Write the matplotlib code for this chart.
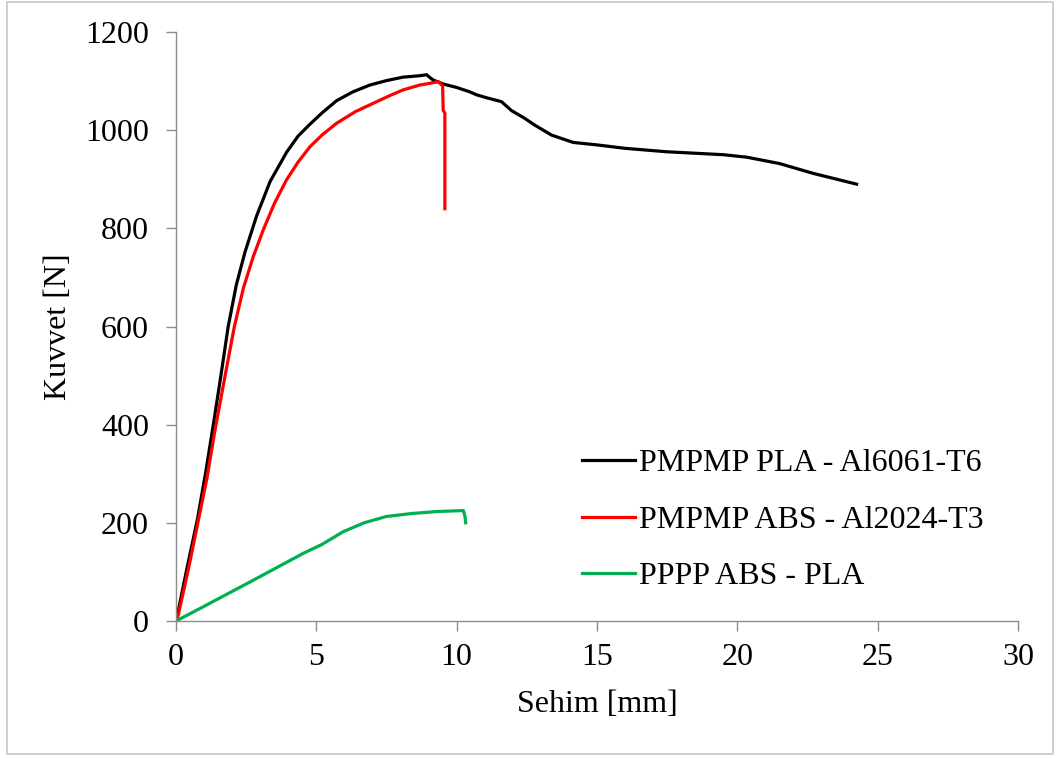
import matplotlib
matplotlib.use("Agg")
import matplotlib.pyplot as plt
from matplotlib.patches import Rectangle

# PMPMP PLA - Al6061-T6 (black)
pla_x = [0, 0.05, 0.4, 0.76, 1.05, 1.33, 1.6, 1.86, 2.15, 2.46, 2.87, 3.35,
         3.94, 4.35, 4.77, 5.2, 5.72, 6.3, 6.91, 7.5, 8.09, 8.5, 8.7, 8.93,
         9.05, 9.17, 9.52, 10.0, 10.47, 10.71, 11.07, 11.6, 11.95, 12.4,
         12.79, 13.38, 14.15, 15.0, 16.0, 17.48, 18.5, 19.5, 20.33, 21.5,
         22.7, 24.25]
pla_y = [0, 12, 110, 206, 300, 400, 500, 600, 685, 752, 825, 895,
         955, 988, 1012, 1035, 1060, 1078, 1092, 1101, 1108, 1110, 1111, 1113,
         1107, 1102, 1094, 1087, 1078, 1072, 1066, 1058, 1040, 1025,
         1010, 990, 975, 970, 963, 956, 953, 950, 945, 932,
         912, 890]

# PMPMP ABS - Al2024-T3 (red)
abs_x = [0, 0.08, 0.45, 0.8, 1.1, 1.39, 1.75, 2.08, 2.4, 2.75, 3.11, 3.5,
         3.94, 4.35, 4.77, 5.2, 5.72, 6.4, 7.15, 7.6, 8.09, 8.69, 9.0, 9.35,
         9.5, 9.52, 9.58, 9.58]
abs_y = [0, 12, 108, 206, 290, 389, 500, 600, 678, 742, 797, 850,
         899, 935, 966, 990, 1014, 1038, 1058, 1070, 1082, 1092, 1095, 1099,
         1090, 1040, 1035, 840]

# PPPP ABS - PLA (green)
pppp_x = [0, 0.97, 2.75, 4.54, 5.2, 5.96, 6.7, 7.5, 8.4, 9.29, 10.24, 10.3, 10.32]
pppp_y = [0, 29, 83, 138, 156, 182, 200, 213, 219, 223, 225, 212, 200]

labels = ["PMPMP PLA - Al6061-T6", "PMPMP ABS - Al2024-T3", "PPPP ABS - PLA"]
x_ticks = [0, 5, 10, 15, 20, 25, 30]
y_ticks = [0, 200, 400, 600, 800, 1000, 1200]

plt.rcParams['font.family'] = ['Liberation Serif', 'DejaVu Serif']
fs = 23

fig = plt.figure(figsize=(10.57, 7.58), dpi=100)
ax = fig.add_axes([176/1057, 1 - 621/758, (1018-176)/1057, (621-32)/758])

ax.plot(pla_x, pla_y, color='black', lw=2.3, label=labels[0])
ax.plot(abs_x, abs_y, color='#ff0000', lw=2.3, label=labels[1])
ax.plot(pppp_x, pppp_y, color='#00b050', lw=2.3, label=labels[2])

ax.set_xlim(0, 30)
ax.set_ylim(0, 1200)
ax.set_xticks(x_ticks)
ax.set_yticks(y_ticks)

gray = '#8c8c8c'
for side in ['top', 'right']:
    ax.spines[side].set_visible(False)
for side in ['left', 'bottom']:
    ax.spines[side].set_color(gray)
    ax.spines[side].set_linewidth(1.0)
ax.tick_params(axis='both', direction='out', length=7.5, width=1.0,
               color=gray, labelsize=fs, labelcolor='black')
ax.tick_params(axis='x', pad=8)
ax.tick_params(axis='y', pad=12)

ax.set_xlabel('Sehim [mm]', fontsize=fs)
ax.set_ylabel('Kuvvet [N]', fontsize=fs)
ax.xaxis.label.set_va('center')
ax.yaxis.label.set_va('center')
ax.xaxis.set_label_coords(0.5, -0.142)
ax.yaxis.set_label_coords(-0.140, 0.5)

leg = ax.legend(loc='upper left', bbox_to_anchor=(0.482, 0.292), frameon=False,
                fontsize=fs, handlelength=1.65, handletextpad=0.15,
                labelspacing=0.85, borderpad=0, borderaxespad=0)

# light outer frame like the Excel chart area
fig.patches.append(Rectangle((7/1057, 4/758), 1046/1057, 752/758,
                             transform=fig.transFigure, fill=False,
                             edgecolor='#c8c8c8', lw=1.2))

fig.savefig('out.png', dpi=100)
